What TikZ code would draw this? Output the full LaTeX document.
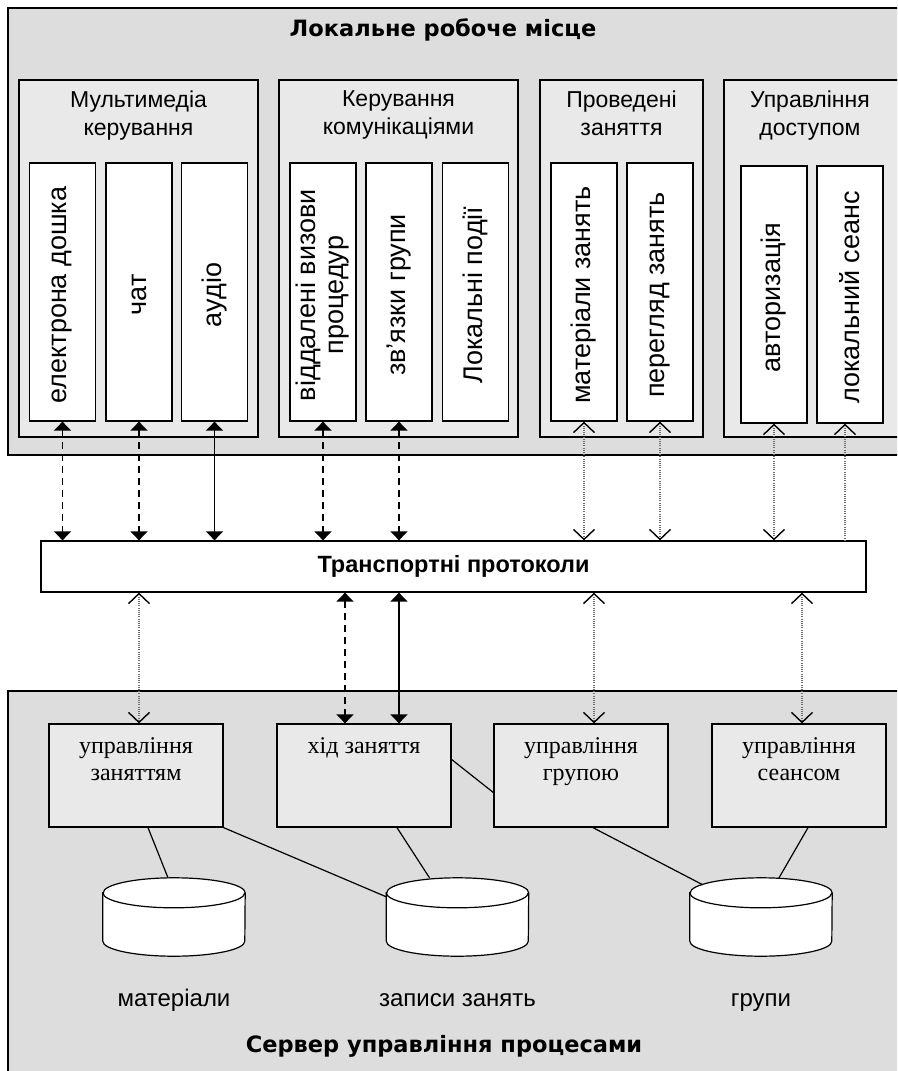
\documentclass[tikz,border=0pt]{standalone}
\usepackage{fontspec}
\usetikzlibrary{arrows.meta,positioning}

\newfontfamily\arialf{Liberation Sans}
\newfontfamily\verdf{DejaVu Sans}
\newfontfamily\romf{Liberation Serif}

\definecolor{outerfill}{RGB}{221,221,221}
\definecolor{grpfill}{RGB}{233,233,233}
\definecolor{dotgray}{RGB}{110,110,110}

\tikzset{
  zone/.style={draw, line width=1.4pt, fill=outerfill},
  grp/.style={draw, line width=1.3pt, fill=grpfill, inner sep=0pt, minimum height=357pt},
  grphead/.style={anchor=north, align=center, inner sep=0pt, font=\arialf\fontsize{23}{28}\selectfont},
  item/.style={draw, line width=1.3pt, fill=white, inner sep=0pt, minimum width=66pt, minimum height=258pt},
  itemtxt/.style={rotate=90, align=center, inner sep=0pt, font=\arialf\fontsize{27}{28}\selectfont},
  srv/.style={draw, line width=1.3pt, fill=grpfill, inner sep=0pt, minimum width=174pt, minimum height=103pt},
  srvtxt/.style={anchor=north, align=center, inner sep=0pt, font=\romf\fontsize{24}{27}\selectfont},
  zonetitle/.style={inner sep=0pt, font=\verdf\bfseries\fontsize{22.5}{26}\selectfont},
  dblabel/.style={anchor=base, inner sep=0pt, font=\arialf\fontsize{24}{28}\selectfont},
  cylspot/.style={inner sep=0pt, minimum width=142pt, minimum height=78pt},
  cylbody/.style={draw, line width=1.2pt, fill=white},
  tie/.style={line width=1.2pt},
  solidlink/.style={line width=1.6pt, {Triangle[length=9pt,width=17pt]}-{Triangle[length=9pt,width=17pt]}},
  dashlink/.style={solidlink, dash pattern=on 7pt off 5pt},
  dotlink/.style={draw=dotgray, line width=1.5pt, dash pattern=on 1pt off 1.2pt,
    {Straight Barb[length=10pt,width=21pt,color=black,line width=1.4pt]}-{Straight Barb[length=10pt,width=21pt,color=black,line width=1.4pt]}},
  dotend/.style={draw=dotgray, line width=1.5pt, dash pattern=on 1pt off 1.2pt,
    {Straight Barb[length=10pt,width=21pt,color=black,line width=1.4pt]}-}
}

\begin{document}
\begin{tikzpicture}[x=1pt, y=-1pt]
  \useasboundingbox (0,0) rectangle (897,1071);
  \clip (0,0) rectangle (897,1071);

  % local workplace
  \draw[zone] (8,8) rectangle (905,455);
  \node[zonetitle] (ws) at (443,30) {Локальне робоче місце};

  \node[grp, minimum width=239pt] (g1) at (138.5,258.5) {};
  \node[grp, minimum width=239pt] (g2) at (398.5,258.5) {};
  \node[grp, minimum width=163pt] (g3) at (621.5,258.5) {};
  \node[grp, minimum width=182pt] (g4) at (815,258.5) {};

  \node[grphead] at ([yshift=-11.5pt]g1.north) {Мультимедіа\\керування};
  \node[grphead] at ([yshift=-11.5pt]g2.north) {Керування\\комунікаціями};
  \node[grphead] at ([yshift=-11.5pt]g3.north) {Проведені\\заняття};
  \node[grphead] at ([xshift=-5pt, yshift=-11.5pt]g4.north) {Управління\\доступом};

  \node[item] (i1) at (62.5,292) {};
  \node[item] (i2) at (139,292) {};
  \node[item] (i3) at (214.5,292) {};
  \node[item] (i4) at (323,292) {};
  \node[item] (i5) at (399,292) {};
  \node[item] (i6) at (475.5,292) {};
  \node[item] (i7) at (584,292) {};
  \node[item] (i8) at (660,292) {};
  \node[item, minimum height=257pt] (i9) at (774,294.5) {};
  \node[item, minimum height=257pt] (i10) at (850,294.5) {};

  \node[itemtxt] at ([yshift=-3pt]i1.center) {електрона дошка};
  \node[itemtxt] at ([yshift=-3pt]i2.center) {чат};
  \node[itemtxt] at ([yshift=-3pt]i3.center) {аудіо};
  \node[itemtxt] at ([yshift=-3pt]i4.center) {віддалені визови\\процедур};
  \node[itemtxt] at ([yshift=-3pt]i5.center) {зв’язки групи};
  \node[itemtxt] at ([yshift=-3pt]i6.center) {Локальні події};
  \node[itemtxt] at ([yshift=-3pt]i7.center) {матеріали занять};
  \node[itemtxt] at ([yshift=-3pt]i8.center) {перегляд занять};
  \node[itemtxt] at ([yshift=-3pt]i9.center) {авторизація};
  \node[itemtxt] at ([yshift=-3pt]i10.center) {локальний сеанс};

  % transport layer
  \node[draw, line width=1.3pt, fill=white, minimum width=825pt, minimum height=51pt,
        font=\arialf\bfseries\fontsize{23.5}{28}\selectfont] (tp) at (453.5,566.5) {Транспортні протоколи};

  % process server
  \draw[zone] (8,691) rectangle (905,1090);
  \node[zonetitle] (srvt) at (444,1046) {Сервер управління процесами};

  \node[srv] (s1) at (136,775.5) {};
  \node[srv] (s2) at (364,775.5) {};
  \node[srv] (s3) at (581,775.5) {};
  \node[srv] (s4) at (799,775.5) {};

  \node[srvtxt] at ([yshift=-14pt]s1.north) {управління\\заняттям};
  \node[srvtxt] at ([yshift=-14pt]s2.north) {хід заняття};
  \node[srvtxt] at ([yshift=-14pt]s3.north) {управління\\групою};
  \node[srvtxt] at ([yshift=-14pt]s4.north) {управління\\сеансом};

  \node[cylspot] (c1) at (174,917) {};
  \node[cylspot] (c2) at (457.5,917) {};
  \node[cylspot] (c3) at (761,917) {};
  \foreach \c in {c1,c2,c3} {
    \path[cylbody] ([yshift=-15pt]\c.north west) -- ([yshift=15pt]\c.south west)
      arc[start angle=180, end angle=360, x radius=71pt, y radius=15pt]
      -- ([yshift=-15pt]\c.north east)
      arc[start angle=0, end angle=180, x radius=71pt, y radius=15pt] -- cycle;
    \draw[line width=1.2pt] ([yshift=-15pt]\c.north west)
      arc[start angle=180, end angle=360, x radius=71pt, y radius=15pt];
  }

  \node[dblabel] (d1) at ([yshift=-50pt]c1.south) {матеріали};
  \node[dblabel] (d2) at ([yshift=-50pt]c2.south) {записи занять};
  \node[dblabel] (d3) at ([yshift=-50pt]c3.south) {групи};

  % links between server parts
  \draw[tie] ([xshift=12pt]s1.south) -- ([xshift=-6pt]c1.north);
  \draw[tie] (s1.south east) -- ([yshift=-19pt]c2.north west);
  \draw[tie] ([xshift=33pt]s2.south) -- ([xshift=-28pt]c2.north);
  \draw[tie] ([yshift=16pt]s2.east) -- ([yshift=-17pt]s3.west);
  \draw[tie] ([xshift=12pt]s3.south) -- ([xshift=13pt,yshift=-7pt]c3.north west);
  \draw[tie] ([xshift=9pt]s4.south) -- ([xshift=18pt]c3.north);

  % workplace <-> transport
  \draw[dashlink] (i1.south) -- (i1.south |- tp.north);
  \draw[dashlink] (i2.south) -- (i2.south |- tp.north);
  \draw[solidlink] (i3.south) -- (i3.south |- tp.north);
  \draw[dashlink] (i4.south) -- (i4.south |- tp.north);
  \draw[dashlink] (i5.south) -- (i5.south |- tp.north);
  \draw[dotlink] (i7.south) -- (i7.south |- tp.north);
  \draw[dotlink] (i8.south) -- (i8.south |- tp.north);
  \draw[dotlink] (i9.south) -- (i9.south |- tp.north);
  \coordinate (e10) at ([xshift=-5pt]i10.south);
  \draw[dotend] (e10) -- (e10 |- tp.north);

  % transport <-> server
  \coordinate (b1) at ([xshift=3pt]s1.north);
  \coordinate (b2) at ([xshift=-19pt]s2.north);
  \coordinate (b3) at ([xshift=35pt]s2.north);
  \coordinate (b4) at ([xshift=13pt]s3.north);
  \coordinate (b5) at ([xshift=3pt]s4.north);
  \draw[dotlink] (b1 |- tp.south) -- (b1);
  \draw[dashlink] (b2 |- tp.south) -- (b2);
  \draw[solidlink] (b3 |- tp.south) -- (b3);
  \draw[dotlink] (b4 |- tp.south) -- (b4);
  \draw[dotlink] (b5 |- tp.south) -- (b5);
\end{tikzpicture}
\end{document}
